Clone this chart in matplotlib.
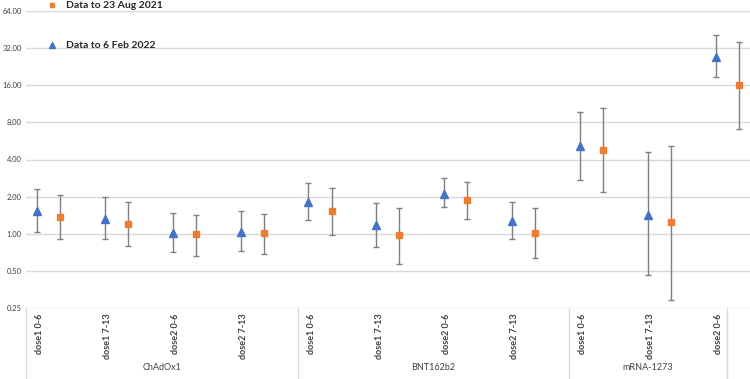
import matplotlib.pyplot as plt
import matplotlib.transforms as mtransforms
import numpy as np

plt.rcParams['font.family'] = ['Lato', 'DejaVu Sans']

groups = ['ChAdOx1', 'BNT162b2', 'mRNA-1273']
group_sizes = [4, 4, 3]
categories = ['dose1 0-6', 'dose1 7-13', 'dose2 0-6', 'dose2 7-13',
              'dose1 0-6', 'dose1 7-13', 'dose2 0-6', 'dose2 7-13',
              'dose1 0-6', 'dose1 7-13', 'dose2 0-6']

# Data to 6 Feb 2022 (blue triangles)
feb_val = [1.52, 1.32, 1.02, 1.04, 1.80, 1.17, 2.12, 1.27, 5.12, 1.43, 27.2]
feb_lo = [1.03, 0.90, 0.71, 0.73, 1.29, 0.785, 1.66, 0.90, 2.75, 0.46, 18.7]
feb_hi = [2.32, 1.99, 1.48, 1.52, 2.59, 1.78, 2.84, 1.80, 9.66, 4.58, 41.2]

# Data to 23 Aug 2021 (orange squares)
aug_val = [1.37, 1.21, 0.99, 1.01, 1.54, 0.97, 1.87, 1.02, 4.82, 1.24, 16.2]
aug_lo = [0.91, 0.80, 0.66, 0.69, 0.97, 0.567, 1.31, 0.64, 2.19, 0.29, 7.13]
aug_hi = [2.05, 1.80, 1.41, 1.45, 2.36, 1.61, 2.62, 1.61, 10.5, 5.12, 35.7]

yticks = [0.25, 0.5, 1, 2, 4, 8, 16, 32, 64]

fig = plt.figure(figsize=(7.5, 3.79), dpi=100)
ax = fig.add_axes([26 / 750, 71 / 379, 1 - 26 / 750, 297 / 379])

slots = np.arange(len(categories))
feb_val = np.array(feb_val)
aug_val = np.array(aug_val)

feb = ax.errorbar(slots + 0.16, feb_val,
                  yerr=[feb_val - np.array(feb_lo), np.array(feb_hi) - feb_val],
                  fmt='^', color='#4472C4', markersize=5.2, ecolor='#7F7F7F',
                  elinewidth=1, capsize=2.2, capthick=1)
aug = ax.errorbar(slots + 0.50, aug_val,
                  yerr=[aug_val - np.array(aug_lo), np.array(aug_hi) - aug_val],
                  fmt='s', color='#ED7D31', markersize=4.8, ecolor='#7F7F7F',
                  elinewidth=1, capsize=2.2, capthick=1)

ax.set_yscale('log', base=2)
ax.set_ylim(0.25, 64)
ax.set_yticks(yticks)
ax.set_yticklabels(['%.2f' % t for t in yticks])
ax.minorticks_off()
ax.set_xlim(0, 724 / 67.9)
ax.set_xticks([])
ax.grid(axis='y', color='#D9D9D9', linewidth=1)
ax.set_axisbelow(True)
for s in ax.spines.values():
    s.set_visible(False)
ax.tick_params(axis='y', length=0, pad=3, labelsize=5.5, labelcolor='#404040')

# multi-level category axis below the plot
trans = mtransforms.blended_transform_factory(ax.transData, ax.transAxes)
bottom = -0.25
for xpos in [0, 4, 8, 10.32]:
    ax.plot([xpos, xpos], [0, bottom], transform=trans, color='#D9D9D9',
            linewidth=1, clip_on=False)
for i, lab in enumerate(categories):
    ax.text(i + 0.2, -0.018, lab, transform=trans, rotation=90, ha='center',
            va='top', fontsize=6.5, fontweight='bold', color='#404040')
start = 0
ends = [4, 8, 10.32]
for g, end in zip(groups, ends):
    ax.text((start + end) / 2, -0.2, g, transform=trans, ha='center',
            va='center', fontsize=6.5, color='#404040')
    start = end

leg = fig.legend([aug[0], feb[0]], ['Data to 23 Aug 2021', 'Data to 6 Feb 2022'],
                 loc='upper left', bbox_to_anchor=(47 / 750, 1 - 1 / 379),
                 frameon=False, fontsize=7.5, handlelength=1.0,
                 handletextpad=0.8, labelspacing=2.95, borderpad=0,
                 borderaxespad=0, markerscale=0.75)
for t in leg.get_texts():
    t.set_fontweight('bold')
    t.set_color('#262626')

fig.savefig('out.png', dpi=100)
